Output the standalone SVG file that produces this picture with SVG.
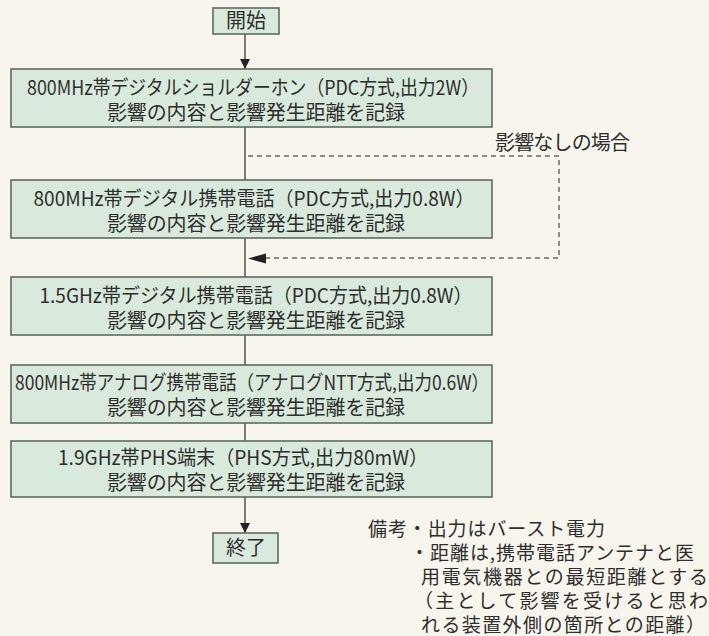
<svg xmlns="http://www.w3.org/2000/svg" width="709" height="636" viewBox="0 0 709 636">
<defs>
<style>
.bg{fill:#f8f5ec}
.box{fill:#d9eadc;stroke:#5d6b61;stroke-width:1.6}
.t{font-family:"Noto Sans CJK JP","Noto Sans",sans-serif;font-size:20px;fill:#2e2e2e}
.n{font-family:"Noto Sans CJK JP","Noto Sans",sans-serif;font-size:19px;fill:#2e2e2e}
.c{text-anchor:middle}
.ln{stroke:#3a3a3a;stroke-width:1.3;fill:none}
.dash{stroke:#6a6a6a;stroke-width:1.5;fill:none;stroke-dasharray:5 4}
</style>
<marker id="ah" viewBox="0 0 10 20" refX="10" refY="10" markerWidth="10" markerHeight="20" markerUnits="userSpaceOnUse" orient="auto">
<path d="M0,5 L10,10 L0,15 Z" fill="#222"/>
</marker>
</defs>
<rect class="bg" x="0" y="0" width="709" height="636"/>

<g id="connectors">
<line class="ln" x1="245" y1="34" x2="245" y2="69" marker-end="url(#ah)"/>
<line class="ln" x1="245" y1="127" x2="245" y2="180"/>
<line class="ln" x1="245" y1="238" x2="245" y2="277"/>
<line class="ln" x1="245" y1="335" x2="245" y2="365"/>
<line class="ln" x1="245" y1="423" x2="245" y2="441"/>
<line class="ln" x1="245" y1="497" x2="245" y2="533" marker-end="url(#ah)"/>
<polyline class="dash" points="248,156 559,156 559,258 264,258"/>
<path d="M248,258.5 L266,253.5 L266,263.5 Z" fill="#222"/>
<text class="t" x="495" y="150" textLength="135" lengthAdjust="spacing">影響なしの場合</text>
</g>

<g id="start">
<rect class="box" x="213" y="8" width="66" height="26"/>
<text class="t c" x="246" y="28">開始</text>
</g>

<g id="step1">
<rect class="box" x="11" y="69" width="481" height="58"/>
<text class="t c" x="253" y="95" textLength="452" lengthAdjust="spacingAndGlyphs">800MHz帯デジタルショルダーホン（PDC方式,出力2W）</text>
<text class="t c" x="256" y="120" textLength="298" lengthAdjust="spacing">影響の内容と影響発生距離を記録</text>
</g>

<g id="step2">
<rect class="box" x="11" y="180" width="481" height="58"/>
<text class="t c" x="254" y="206" textLength="441" lengthAdjust="spacingAndGlyphs">800MHz帯デジタル携帯電話（PDC方式,出力0.8W）</text>
<text class="t c" x="256" y="231" textLength="298" lengthAdjust="spacing">影響の内容と影響発生距離を記録</text>
</g>

<g id="step3">
<rect class="box" x="11" y="277" width="481" height="58"/>
<text class="t c" x="256" y="303" textLength="433" lengthAdjust="spacingAndGlyphs">1.5GHz帯デジタル携帯電話（PDC方式,出力0.8W）</text>
<text class="t c" x="256" y="328" textLength="298" lengthAdjust="spacing">影響の内容と影響発生距離を記録</text>
</g>

<g id="step4">
<rect class="box" x="11" y="365" width="481" height="58"/>
<text class="t c" x="252" y="390" textLength="474" lengthAdjust="spacingAndGlyphs">800MHz帯アナログ携帯電話（アナログNTT方式,出力0.6W）</text>
<text class="t c" x="256" y="415" textLength="298" lengthAdjust="spacing">影響の内容と影響発生距離を記録</text>
</g>

<g id="step5">
<rect class="box" x="11" y="441" width="481" height="56"/>
<text class="t c" x="243" y="465" textLength="370" lengthAdjust="spacingAndGlyphs">1.9GHz帯PHS端末（PHS方式,出力80mW）</text>
<text class="t c" x="256" y="490" textLength="298" lengthAdjust="spacing">影響の内容と影響発生距離を記録</text>
</g>

<g id="end">
<rect class="box" x="213" y="533" width="65" height="30"/>
<text class="t c" x="246" y="555">終了</text>
</g>

<g id="notes">
<text class="n" x="368" y="536" textLength="237" lengthAdjust="spacing">備考・出力はバースト電力</text>
<text class="n" x="410" y="560" textLength="284" lengthAdjust="spacing">・距離は,携帯電話アンテナと医</text>
<text class="n" x="421" y="584" textLength="287" lengthAdjust="spacing">用電気機器との最短距離とする</text>
<text class="n" x="414" y="608" textLength="294" lengthAdjust="spacing">（主として影響を受けると思わ</text>
<text class="n" x="421" y="632" textLength="284" lengthAdjust="spacing">れる装置外側の箇所との距離）</text>
</g>
</svg>
